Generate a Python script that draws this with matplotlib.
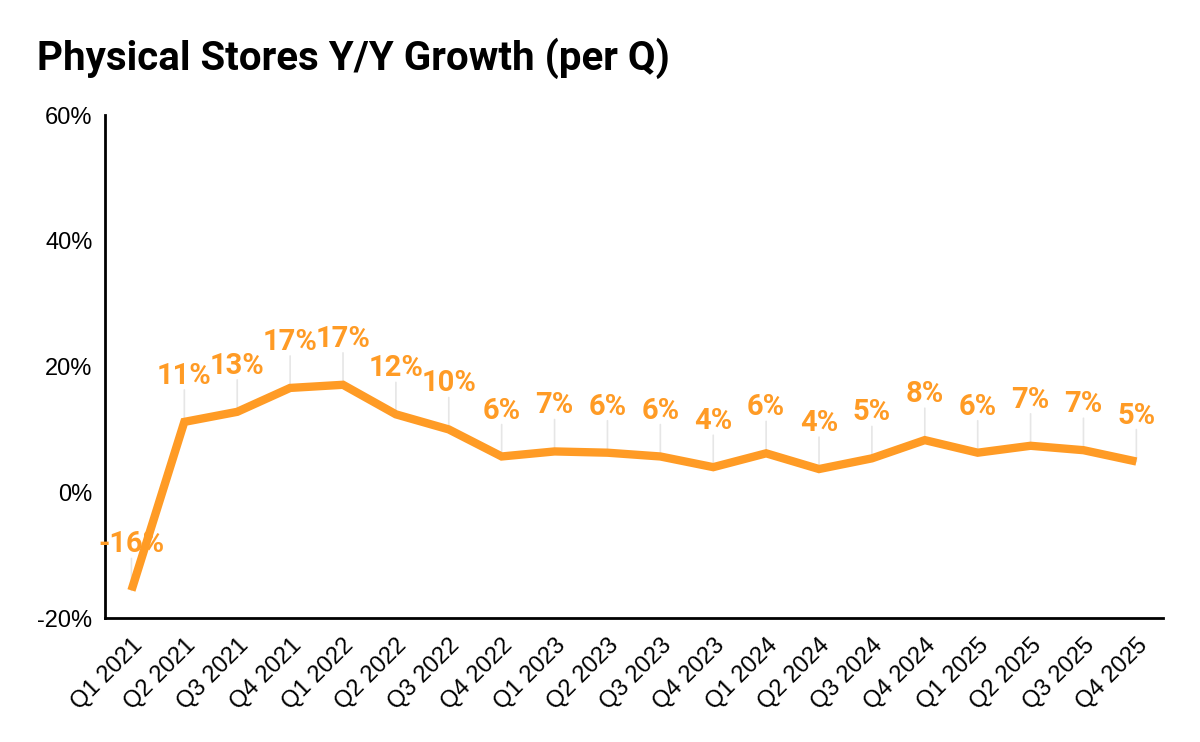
import matplotlib
matplotlib.use("Agg")
import matplotlib.pyplot as plt

quarters = ["Q1 2021", "Q2 2021", "Q3 2021", "Q4 2021", "Q1 2022", "Q2 2022", "Q3 2022", "Q4 2022",
            "Q1 2023", "Q2 2023", "Q3 2023", "Q4 2023", "Q1 2024", "Q2 2024", "Q3 2024", "Q4 2024",
            "Q1 2025", "Q2 2025", "Q3 2025", "Q4 2025"]
growth = [-15.6, 11.2, 12.8, 16.6, 17.1, 12.4, 10.0, 5.7, 6.5, 6.3, 5.7, 4.0, 6.2, 3.7, 5.4, 8.3,
          6.3, 7.4, 6.7, 4.9]
labels = ["-16%", "11%", "13%", "17%", "17%", "12%", "10%", "6%", "7%", "6%", "6%", "4%", "6%", "4%",
          "5%", "8%", "6%", "7%", "7%", "5%"]
yticks = [-20, 0, 20, 40, 60]

orange = "#FF9B25"

fig = plt.figure(figsize=(12, 7.42), dpi=100)
ax = fig.add_axes([0.0875, 0.167, 0.8815, 0.678])
x = list(range(len(quarters)))

for xi, v, lab in zip(x, growth, labels):
    ax.annotate("", xy=(xi, v), xytext=(0, 23), textcoords="offset points",
                arrowprops=dict(arrowstyle="-", color="#e6e6e6", lw=1.2,
                                shrinkA=0, shrinkB=0), zorder=1)
    ax.annotate(lab, xy=(xi, v), xytext=(0, 23), textcoords="offset points",
                ha="center", va="bottom", fontsize=21, fontweight="bold",
                family="Roboto", color=orange, zorder=5, annotation_clip=False)

ax.plot(x, growth, color=orange, lw=6, solid_joinstyle="miter", solid_capstyle="butt", zorder=3)

ax.set_xlim(-0.5, 19.5)
ax.set_ylim(-20, 60)
ax.set_yticks(yticks)
ax.set_yticklabels([f"{t}%" for t in yticks], fontsize=17, family="Liberation Sans")
ax.set_xticks(x)
ax.set_xticklabels(quarters, rotation=45, ha="right", rotation_mode="anchor",
                   fontsize=17, family="Liberation Sans")
ax.tick_params(axis="y", length=0, pad=9)
ax.tick_params(axis="x", length=0, pad=12)
for s in ["top", "right"]:
    ax.spines[s].set_visible(False)
for s in ["left", "bottom"]:
    ax.spines[s].set_linewidth(2)
    ax.spines[s].set_color("black")
    ax.spines[s].set_zorder(2)

fig.text(0.031, 0.922, "Physical Stores Y/Y Growth (per Q)", fontsize=29, fontweight="bold",
         family="Roboto", color="black", ha="left", va="center")

fig.savefig("out.png", dpi=100, facecolor="white")
